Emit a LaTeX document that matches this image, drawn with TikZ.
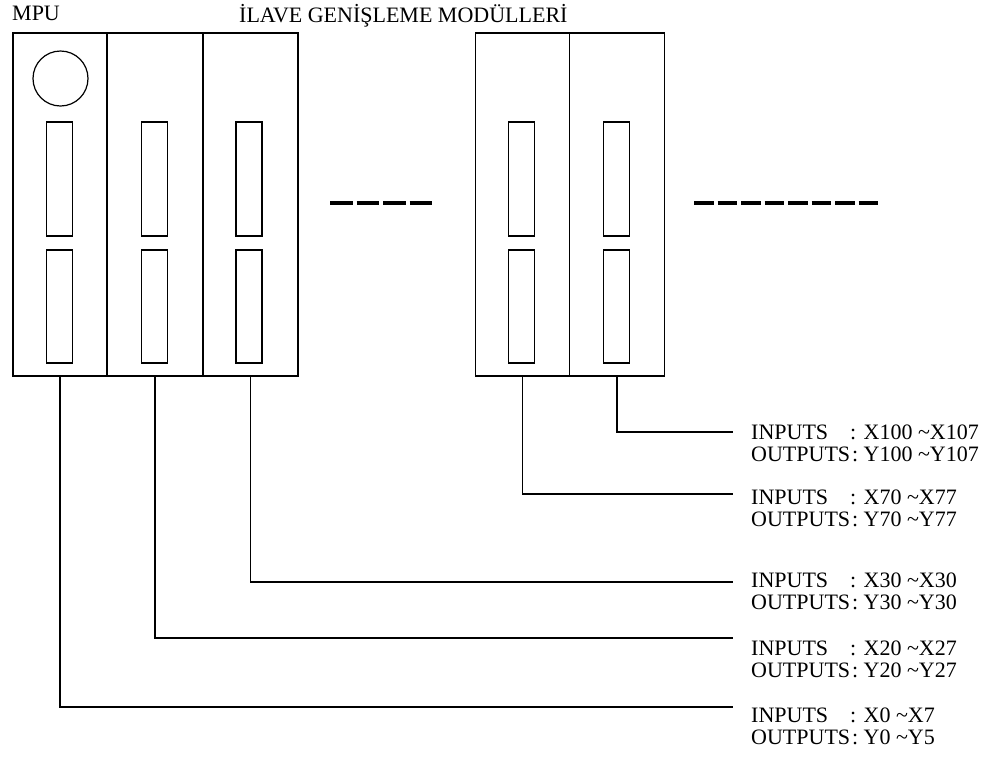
\documentclass[tikz,border=0pt]{standalone}
\usepackage{fontspec}
\setmainfont{Liberation Serif}
\begin{document}
\begin{tikzpicture}[x=1pt,y=-1pt,
  every node/.style={font=\fontsize{22}{23}\selectfont},
  module/.style={draw,line width=1.2pt,inner sep=0pt,minimum height=343pt},
  slot/.style={draw,line width=1.2pt,inner sep=0pt,minimum width=26pt},
  wire/.style={line width=1.2pt},
  dots/.style={line width=4.5pt},
  lbl/.style={anchor=base west,inner sep=0pt,align=left}]
\useasboundingbox (0,0) rectangle (988,756);
% titles
\node[anchor=base west,inner sep=0pt] (tmpu) at (12,20) {MPU};
\node[anchor=base west,inner sep=0pt] (ttitle) at (239,22) {İLAVE GENİŞLEME MODÜLLERİ};
% modules
\node[module,minimum width=94pt] (m1) at (60,204.5) {};
\node[module,minimum width=96pt] (m2) at (155,204.5) {};
\node[module,minimum width=95pt] (m3) at (250.5,204.5) {};
\node[module,minimum width=94.5pt] (m4) at (522.5,204.5) {};
\node[module,minimum width=94.5pt] (m5) at (617,204.5) {};
% LED
\node[draw,circle,line width=1.2pt,minimum size=55pt,inner sep=0pt] (led) at (60.5,78.5) {};
% slots
\foreach \m/\x in {m1/59.5,m2/154.5,m3/249,m4/521.5,m5/616.5}{
  \node[slot,minimum height=114pt] (\m a) at (\x,179) {};
  \node[slot,minimum height=113pt] (\m b) at (\x,306.5) {};
}
% dashes
\coordinate (d1s) at (330,203); \coordinate (d1e) at (432,203);
\coordinate (d2s) at (694,203); \coordinate (d2e) at (878,203);
\draw[dots,dash pattern=on 22.5pt off 4pt] (d1s) -- (d1e);
\draw[dots,dash pattern=on 19.5pt off 4pt] (d2s) -- (d2e);
% labels
\node[lbl] (l5) at (751,439) {\begin{tabular}[t]{@{}l@{: }l@{}}\makebox[0pt][l]{INPUTS}\phantom{OUTPUTS}&X100 \textasciitilde X107\\[-1pt] OUTPUTS&Y100 \textasciitilde Y107\end{tabular}};
\node[lbl] (l4) at (751,504) {\begin{tabular}[t]{@{}l@{: }l@{}}\makebox[0pt][l]{INPUTS}\phantom{OUTPUTS}&X70 \textasciitilde X77\\[-1pt] OUTPUTS&Y70 \textasciitilde Y77\end{tabular}};
\node[lbl] (l3) at (751,587) {\begin{tabular}[t]{@{}l@{: }l@{}}\makebox[0pt][l]{INPUTS}\phantom{OUTPUTS}&X30 \textasciitilde X30\\[-1pt] OUTPUTS&Y30 \textasciitilde Y30\end{tabular}};
\node[lbl] (l2) at (751,655) {\begin{tabular}[t]{@{}l@{: }l@{}}\makebox[0pt][l]{INPUTS}\phantom{OUTPUTS}&X20 \textasciitilde X27\\[-1pt] OUTPUTS&Y20 \textasciitilde Y27\end{tabular}};
\node[lbl] (l1) at (751,722) {\begin{tabular}[t]{@{}l@{: }l@{}}\makebox[0pt][l]{INPUTS}\phantom{OUTPUTS}&X0 \textasciitilde X7\\[-1pt] OUTPUTS&Y0 \textasciitilde Y5\end{tabular}};
% connectors
\coordinate (c5) at (733,432);
\coordinate (c4) at (733,494);
\coordinate (c3) at (733,582);
\coordinate (c2) at (733,638);
\coordinate (c1) at (733,707);
\draw[wire] (m5.south) |- (c5);
\draw[wire] (m4.south) |- (c4);
\draw[wire] (m3.south) |- (c3);
\draw[wire] (m2.south) |- (c2);
\draw[wire] (m1.south) |- (c1);
\end{tikzpicture}
\end{document}
